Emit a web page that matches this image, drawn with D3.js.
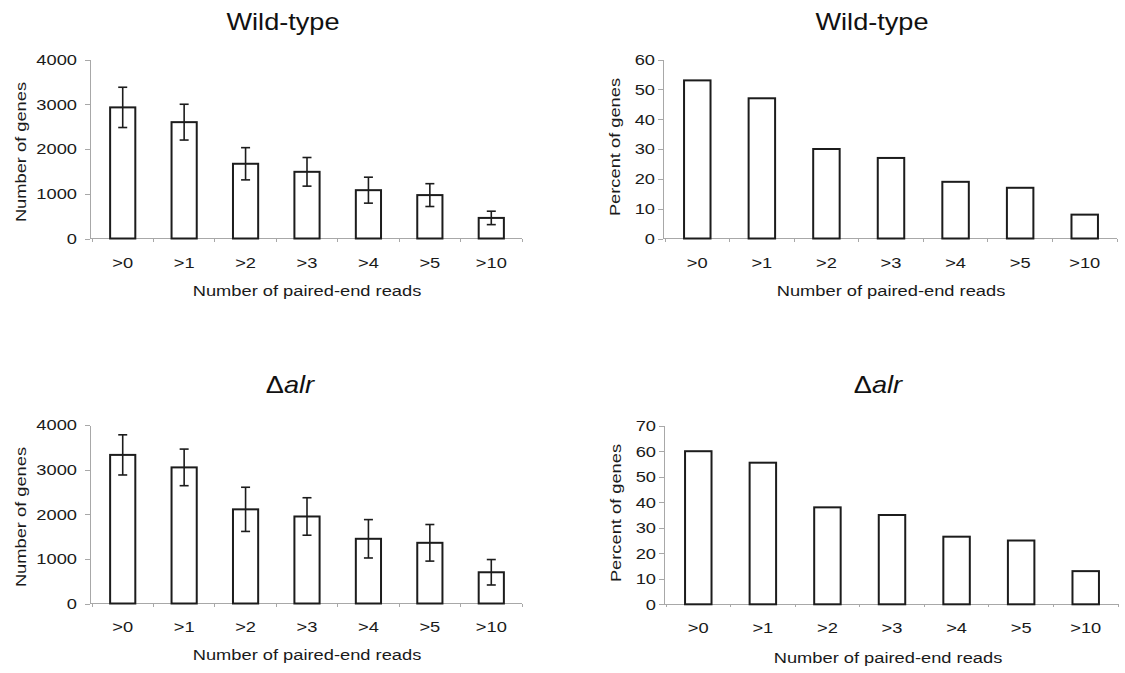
<!DOCTYPE html>
<html lang="en">
<head>
  <meta charset="UTF-8" />
  <title>Genes by paired-end reads</title>
  <script src="https://d3js.org/d3.v7.min.js"></script>
  <style>
    html, body { margin: 0; padding: 0; background: #fff; }
    svg { display: block; font-family: "Liberation Sans", Arial, sans-serif; }
    .axis path, .axis line { stroke: #a8a8a8; stroke-width: 1px; shape-rendering: crispEdges; }
    .axis text { fill: #1a1a1a; font-size: 15.5px; }
    .bar { fill: #fff; stroke: #1c1c1c; stroke-width: 2px; }
    .err { stroke: #1c1c1c; stroke-width: 1.6px; fill: none; }
    .title { font-size: 23px; fill: #111; }
    .label { font-size: 15.5px; fill: #1a1a1a; }
  </style>
</head>
<body>
  <svg id="chart" width="1125" height="673"></svg>

  <script>
    // data
    const categories  = ['>0', '>1', '>2', '>3', '>4', '>5', '>10'];
    const wtCounts    = [2930, 2600, 1670, 1490, 1080, 970, 460];
    const wtCountErr  = [450, 400, 360, 320, 290, 255, 150];
    const wtPercent   = [53, 47, 30, 27, 19, 17, 8];
    const alrCounts   = [3330, 3050, 2110, 1950, 1450, 1360, 700];
    const alrCountErr = [450, 410, 495, 420, 430, 410, 285];
    const alrPercent  = [60, 55.5, 38, 35, 26.5, 25, 13];
    const countTicks  = [0, 1000, 2000, 3000, 4000];
    const wtPctTicks  = [0, 10, 20, 30, 40, 50, 60];
    const alrPctTicks = [0, 10, 20, 30, 40, 50, 60, 70];

    const SX = 1.18; // the figure's lettering is stretched sideways
    const svg = d3.select('#chart');

    // panel layout (pixels)
    const panels = [
      { values: wtCounts, err: wtCountErr, ticks: countTicks, title: 'wt', yLabel: 'Number of genes',
        axisX: 90, x0: 92, x1: 522, yTop: 59.5, y0: 238.5, pad: 8,
        titleAt: [283, 22], yLabelAt: [21, 152], tickY: 263, xTitleAt: [307, 291] },
      { values: wtPercent, err: null, ticks: wtPctTicks, title: 'wt', yLabel: 'Percent of genes',
        axisX: 663, x0: 665, x1: 1117, yTop: 59.5, y0: 238.5, pad: 3,
        titleAt: [872, 22], yLabelAt: [615, 147], tickY: 263, xTitleAt: [891, 291] },
      { values: alrCounts, err: alrCountErr, ticks: countTicks, title: 'alr', yLabel: 'Number of genes',
        axisX: 90, x0: 92, x1: 522, yTop: 425, y0: 603.5, pad: 8,
        titleAt: [290, 385], yLabelAt: [21, 517], tickY: 627, xTitleAt: [307, 655] },
      { values: alrPercent, err: null, ticks: alrPctTicks, title: 'alr', yLabel: 'Percent of genes',
        axisX: 664, x0: 666, x1: 1118, yTop: 425.7, y0: 604.3, pad: 3,
        titleAt: [878, 385], yLabelAt: [616, 513], tickY: 628, xTitleAt: [888, 658] }
    ];

    panels.forEach(drawPanel);

    function drawPanel(p) {
      const g = svg.append('g');
      const x = d3.scaleBand().domain(categories).range([p.x0, p.x1])
        .paddingInner(0.59).paddingOuter(0.295);
      const yMax = p.ticks[p.ticks.length - 1];
      const y = d3.scaleLinear().domain([0, yMax]).range([p.y0, p.yTop]);

      // y axis
      const ya = g.append('g').attr('class', 'axis')
        .attr('transform', `translate(${p.axisX},0)`)
        .call(d3.axisLeft(y).tickValues(p.ticks).tickFormat(d3.format('d'))
          .tickSize(5).tickSizeOuter(0).tickPadding(p.pad));
      ya.selectAll('.tick text')
        .attr('x', null)
        .attr('transform', `translate(${-(5 + p.pad)},0) scale(${SX},1)`);

      // x axis line with small marks at band edges
      const xa = g.append('g').attr('class', 'axis');
      xa.append('line').attr('x1', p.axisX).attr('x2', p.x1).attr('y1', p.y0).attr('y2', p.y0);
      const step = x.step();
      xa.selectAll('line.edge').data(d3.range(categories.length + 1)).join('line')
        .attr('class', 'edge')
        .attr('x1', i => p.x0 + i * step).attr('x2', i => p.x0 + i * step)
        .attr('y1', p.y0).attr('y2', p.y0 + 3);

      // bars
      g.selectAll('rect.bar').data(p.values).join('rect')
        .attr('class', 'bar')
        .attr('x', (d, i) => x(categories[i]))
        .attr('width', x.bandwidth())
        .attr('y', d => y(d))
        .attr('height', d => p.y0 - y(d));

      // error bars
      if (p.err) {
        const cap = 4.5;
        const eg = g.selectAll('g.errbar').data(p.values).join('g').attr('class', 'errbar');
        eg.append('line').attr('class', 'err')
          .attr('x1', (d, i) => x(categories[i]) + x.bandwidth() / 2)
          .attr('x2', (d, i) => x(categories[i]) + x.bandwidth() / 2)
          .attr('y1', (d, i) => y(d + p.err[i]))
          .attr('y2', (d, i) => y(d - p.err[i]));
        [1, -1].forEach(sgn => {
          eg.append('line').attr('class', 'err')
            .attr('x1', (d, i) => x(categories[i]) + x.bandwidth() / 2 - cap)
            .attr('x2', (d, i) => x(categories[i]) + x.bandwidth() / 2 + cap)
            .attr('y1', (d, i) => y(d + sgn * p.err[i]))
            .attr('y2', (d, i) => y(d + sgn * p.err[i]));
        });
      }

      // category labels
      g.selectAll('g.cat').data(categories).join('g')
        .attr('class', 'cat')
        .attr('transform', d => `translate(${x(d) + x.bandwidth() / 2},${p.tickY})`)
        .append('text').attr('class', 'label')
        .attr('text-anchor', 'middle').attr('dy', '0.35em')
        .attr('transform', `scale(${SX},1)`)
        .text(d => d);

      // axis titles
      g.append('text').attr('class', 'label')
        .attr('text-anchor', 'middle').attr('dy', '0.35em')
        .attr('transform', `translate(${p.xTitleAt[0]},${p.xTitleAt[1]}) scale(${SX},1)`)
        .text('Number of paired-end reads');
      g.append('text').attr('class', 'label')
        .attr('text-anchor', 'middle').attr('dy', '0.35em')
        .attr('transform', `translate(${p.yLabelAt[0]},${p.yLabelAt[1]}) rotate(-90) scale(${SX},1)`)
        .text(p.yLabel);

      // panel title
      const t = g.append('text').attr('class', 'title')
        .attr('text-anchor', 'middle').attr('dy', '0.35em')
        .attr('transform', `translate(${p.titleAt[0]},${p.titleAt[1]}) scale(${SX},1)`);
      if (p.title === 'wt') {
        t.text('Wild-type');
      } else {
        t.append('tspan').text('Δ');
        t.append('tspan').attr('font-style', 'italic').text('alr');
      }
    }
  </script>
</body>
</html>
